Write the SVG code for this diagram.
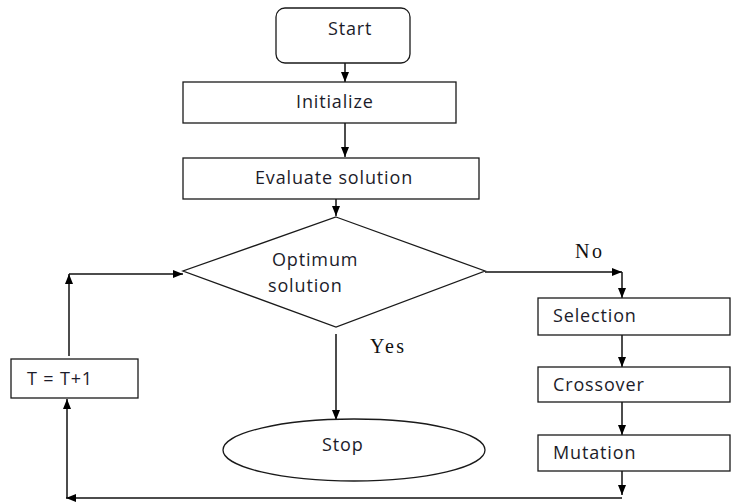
<svg xmlns="http://www.w3.org/2000/svg" width="731" height="504" viewBox="0 0 731 504">
<style>
.box{fill:#fff;stroke:#1a1a1a;stroke-width:1.3}
.t{font-family:"Open Sans","Liberation Sans",sans-serif;font-size:18px;letter-spacing:0.85px;fill:#1c1c2a}
.s{font-family:"Liberation Serif",serif;font-size:20px;letter-spacing:2.5px;fill:#111}
.c{fill:none;stroke:#111;stroke-width:1.5}
</style>
<defs>
<marker id="b" viewBox="0 0 10 10" refX="10" refY="5" markerWidth="10" markerHeight="10" orient="auto" markerUnits="userSpaceOnUse">
<path d="M0,1 L10,5 L0,9 z" fill="#000"/>
</marker>
</defs>
<rect width="731" height="504" fill="#fff"/>
<g id="connectors">
<path class="c" d="M345,63 V82" marker-end="url(#b)"/>
<path class="c" d="M345,123 V157" marker-end="url(#b)"/>
<path class="c" d="M336,199 V216" marker-end="url(#b)"/>
<path class="c" d="M485,272 H622" marker-end="url(#b)"/>
<path class="c" d="M622,272 V298" marker-end="url(#b)"/>
<path class="c" d="M336,334 V420" marker-end="url(#b)"/>
<path class="c" d="M622,335 V367" marker-end="url(#b)"/>
<path class="c" d="M622,402 V435" marker-end="url(#b)"/>
<path class="c" d="M622,471 V495" marker-end="url(#b)"/>
<path class="c" d="M622,498 H66" marker-end="url(#b)"/>
<path class="c" d="M67,498 V399" marker-end="url(#b)"/>
<path class="c" d="M69,356 V274" marker-end="url(#b)"/>
<path class="c" d="M69,274 H183" marker-end="url(#b)"/>
<text class="s" x="575" y="258">No</text>
<text class="s" x="370" y="353">Yes</text>
</g>
<g id="start">
<rect class="box" x="276" y="8" width="134" height="55" rx="9"/>
<text class="t" x="328" y="35">Start</text>
</g>
<g id="initialize">
<rect class="box" x="183" y="82" width="273" height="41"/>
<text class="t" x="296" y="108">Initialize</text>
</g>
<g id="evaluate">
<rect class="box" x="183" y="158" width="296" height="41"/>
<text class="t" x="255" y="184">Evaluate solution</text>
</g>
<g id="optimum">
<polygon class="box" points="336,217 485,271 336,327 183,271"/>
<text class="t" x="272" y="266">Optimum</text>
<text class="t" x="268" y="292">solution</text>
</g>
<g id="selection">
<rect class="box" x="538" y="298" width="192" height="37"/>
<text class="t" x="553" y="322">Selection</text>
</g>
<g id="crossover">
<rect class="box" x="538" y="367" width="192" height="35"/>
<text class="t" x="553" y="391">Crossover</text>
</g>
<g id="mutation">
<rect class="box" x="538" y="435" width="192" height="36"/>
<text class="t" x="553" y="459">Mutation</text>
</g>
<g id="increment">
<rect class="box" x="11" y="359" width="127" height="39"/>
<text class="t" x="27" y="385">T = T+1</text>
</g>
<g id="stop">
<ellipse class="box" cx="354" cy="450" rx="131" ry="31"/>
<text class="t" x="322" y="451">Stop</text>
</g>
</svg>
